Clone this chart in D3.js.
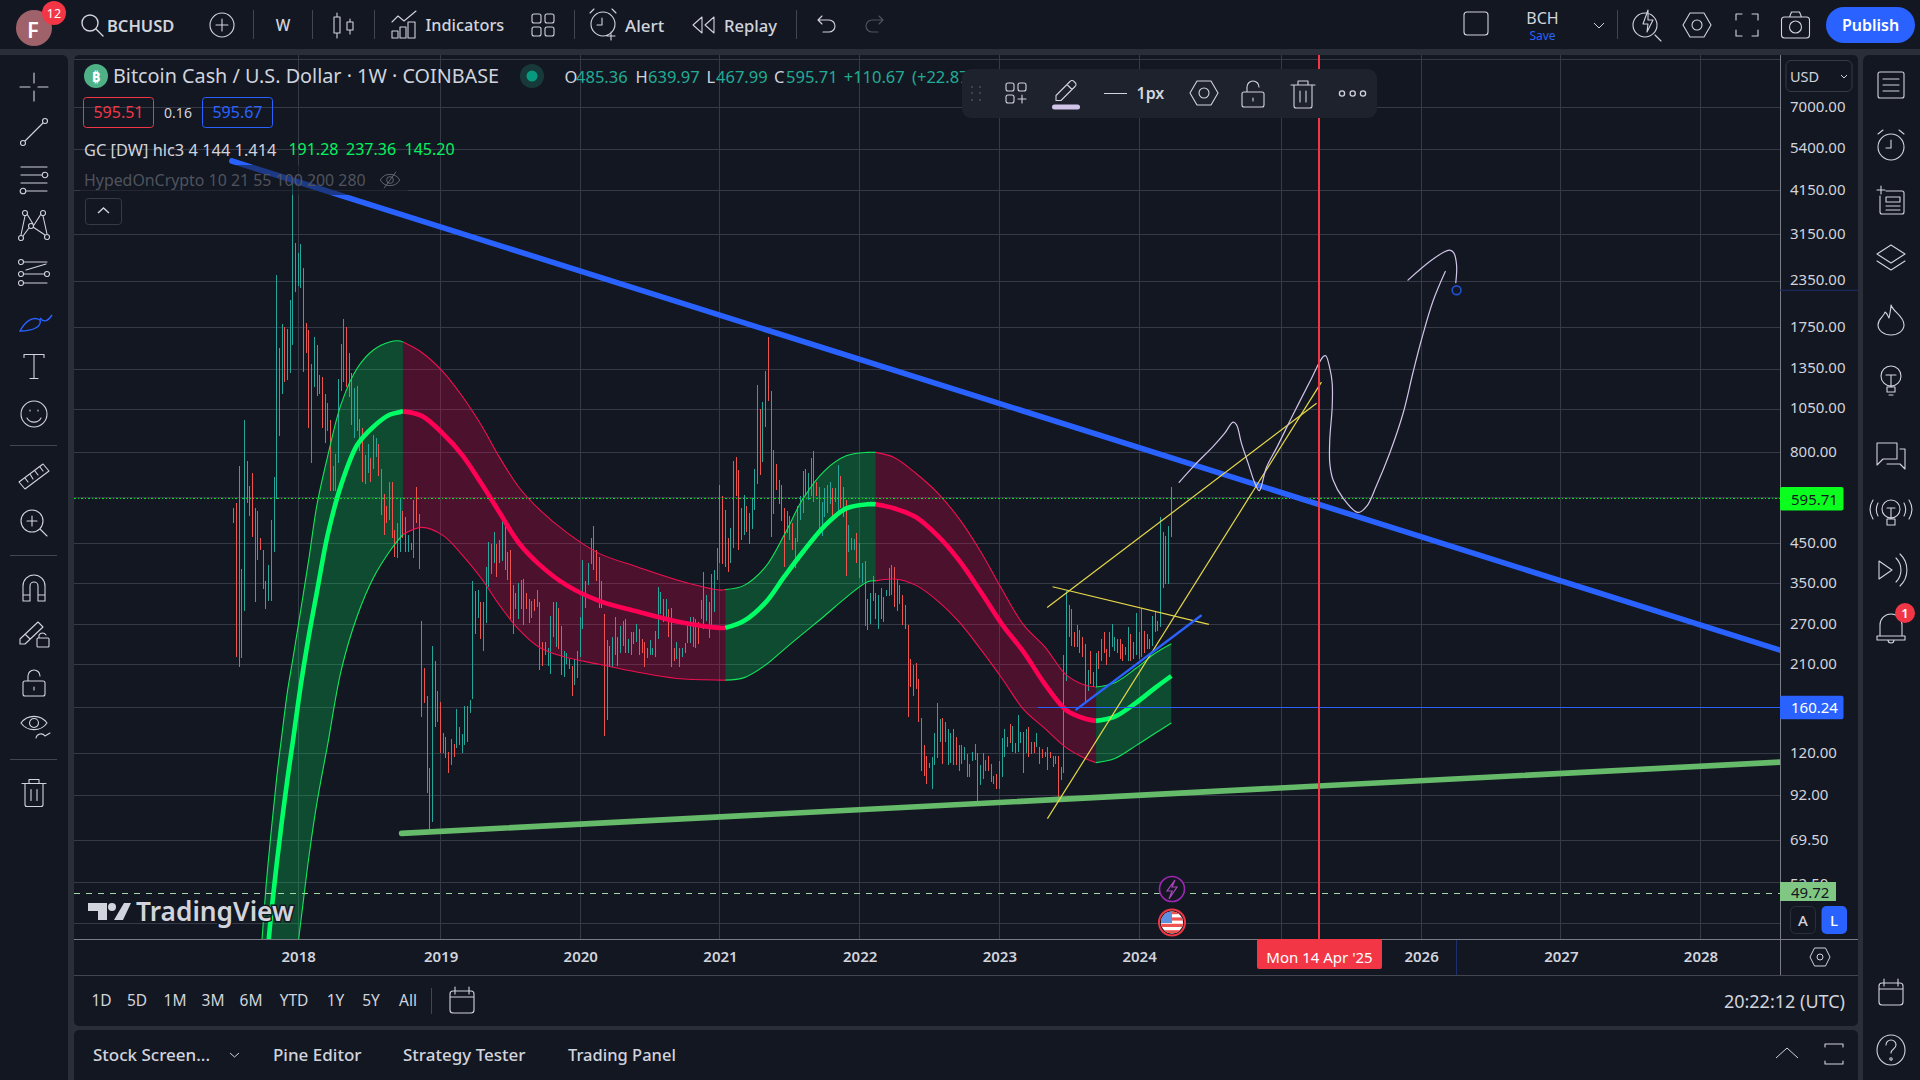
<!DOCTYPE html>
<html>
<head>
<meta charset="utf-8">
<script src="https://d3js.org/d3.v7.min.js"></script>
<style>
  body { margin: 0; background: #2a2e39; overflow: hidden; }
  svg { display: block; }
  text { font-family: "Noto Sans", sans-serif; }
  .domain { display: none; }
  .grid line { stroke: #363a48; shape-rendering: crispEdges; }
</style>
</head>
<body>
<div id="chart"></div>
<script>
// Weekly bars, the first one is the week of 17 Jul 2017
var firstBar = new Date(Date.UTC(2017, 6, 17));
var barHigh = [
  560,581,730,383,978,757,646,700,560,552, 465,432,354,392,522,684,2430,1537,1787,1750,
  1730,2079,4390,2975,2790,2960,2550,1800,1722,1393, 1650,1565,1298,1283,1150,1087,978,730,790,1265,
  1575,1845,1760,1490,1310,1195,1210,985,930,785, 838,770,890,875,838,720,615,570,662,660,
  490,512,595,552,530,475,450,592,642,542, 276,205,172,109,235,214,177,166,136,133,
  121,131,127,158,141,135,161,161,168,354, 332,336,310,310,387,454,449,484,449,460,
  518,522,427,430,345,328,350,358,360,328, 316,312,316,336,310,242,242,232,284,310,
  310,300,267,228,225,217,208,217,228,282, 406,355,398,465,500,430,412,354,288,245,
  235,250,282,250,267,276,279,246,258,258, 270,262,246,242,232,245,233,259,342,330,
  316,316,297,300,233,242,233,233,240,267, 282,282,279,274,314,376,324,310,370,381,
  437,650,604,556,465,495,757,775,715,560, 610,570,545,597,720,1220,1048,1095,1330,1650,
  1175,810,740,671,650,562,550,535,512,465, 567,604,710,720,700,770,805,662,642,585,
  638,650,660,635,638,735,685,642,592,505, 465,463,479,450,396,401,316,328,365,328,
  324,340,320,336,386,392,388,356,346,324, 304,268,217,209,211,191,150,126,118,113,
  117,136,164,149,150,146,140,136,140,133, 126,126,125,119,112,121,127,120,111,120,
  115,118,112,104,105,114,132,140,133,144, 142,128,153,137,137,140,141,129,129,136,
  125,123,121,125,121,118,118,118,110,222, 332,304,297,258,268,260,250,238,202,228,
  200,226,228,246,258,231,258,270,250,246, 246,238,234,266,254,241,290,258,300,259,
  254,246,284,291,276,530,483,470,500,642
];
var barLow = [
  512,220,206,219,293,581,535,468,310,406, 432,338,297,312,312,427,595,885,1150,1243,
  1258,1315,1566,2185,2270,2240,1326,1490,930,745, 1205,1140,1150,930,846,913,626,626,626,745,
  1175,1243,1205,1130,948,875,913,805,662,655, 700,662,720,775,685,538,475,512,522,465,
  412,409,427,465,427,427,432,409,512,383, 151,165,93.5,73,78,141,146,120,120,116,
  106,111,117,124,126,120,126,129,154,169, 254,281,246,228,273,342,371,398,364,398,
  403,381,358,279,254,297,279,297,269,297, 273,281,293,302,202,208,222,208,198,250,
  234,231,196,194,210,204,172,184,192,220, 262,300,346,394,381,354,300,300,134,148,
  206,206,222,208,226,236,225,225,222,238, 242,222,226,206,218,223,223,220,246,288,
  274,279,250,206,214,217,206,220,225,240, 240,234,232,238,279,262,276,248,262,291,
  358,398,394,388,376,398,437,604,432,460, 475,483,447,493,556,655,692,750,935,1100,
  468,542,630,575,516,388,480,460,432,386, 454,522,545,604,592,604,585,604,480,470,
  530,545,575,530,585,538,560,530,367,427, 432,430,398,362,350,267,260,270,312,279,
  262,279,274,322,322,325,302,293,306,268, 262,151,182,172,180,146,107,104,99,109,
  96,111,116,129,112,129,111,113,111,111, 107,112,115,103,103,114,115,88,98,102,
  107,107,100,99,96,96,103,117,125,128, 121,120,121,128,106,120,117,119,120,125,
  112,116,117,108,116,110,112,91,101,106, 189,250,236,234,234,225,220,164,177,185,
  182,182,204,214,226,209,220,234,228,226, 217,214,222,214,214,217,222,217,220,226,
  231,231,236,258,259,266,340,348,348,468
];
// u = up week, d = down week, ten weeks per row
var barDir = [
  "d d d u u d d d d u", "d d d u u u u d u d", "d u u d u u d d d u", "u d u d d u d u u u",
  "u u d d d u d d d d", "u d u u d d d d u d", "d u u d d u d u d d", "d d d d u d u d d d",
  "d u d u u u u u u u", "d u d u u u u u d u", "u d d d u d u u d d", "d u d u d d d u u u",
  "u d d u u d d u u u", "u u u u d d d d d u", "d u u d u u d u u d", "u d d d d u u u u u",
  "d u d d d u u u u u", "u u u d u d u u u u", "u u d d d u u d d u", "u d d u u u d u u d",
  "d u d d d d u u d u", "u u u d u u d d u u", "u u u d d u d d d u", "d u d d u u d u u d",
  "u d d u u u d u d d", "d d d d d d d d d d", "u u u u d d u u d d", "u u u d u u u d u u",
  "u d d u d u u u u d", "u d u u d u d u d u", "d d u d d u d d d u", "u d d d u d d d u d",
  "d u d d d d u u u d", "d d u u d d u u u d", "u d u d d u d d u u"
].join("").replace(/ /g, "");

var yearTicks = [[2018,1],[2019,7],[2020,6],[2021,4],[2022,3],[2023,2],[2024,1],[2025,6],[2026,5],[2027,4],[2028,3]]
  .map(function (d) { return new Date(Date.UTC(d[0], 0, d[1])); });
var priceLabels = [7000,5400,4150,3150,2350,1750,1350,1050,800,450,350,270,210,120,92,69.5,52.5];
var gridPrices = [9500,7000,5400,4150,3150,2350,1750,1350,1050,800,600,450,350,270,210,160,120,92,69.5,53.2,41.3];

var gcWeeks = [10,12,14,16,18,20,22,25,28,31,35,40,46,52,58,62,63,70,78,85,92,99,106,114,124,136,150,165,181,183,190,198,205,212,220,228,236,239,246,254,262,270,278,286,294,302,310,317,321,328,336,343,349];
var gcUpper = [32.6,51.6,74,103,136,177,217,297,409,574,780,1082,1356,1519,1597,1607,1596,1495,1322,1137,950,771,642,554,481,422,388,357,335,336,345,388,475,597,711,780,797,797,771,698,618,525,427,336,269,234,196,184,182,187,205,225,239];
var gcBasis = [23.9,31,44.1,59.8,79,102,129,185,252,332,475,650,836,937,1010,1028,1032,1003,895,785,658,545,452,392,345,313,293,275,264,264,276,310,365,427,502,560,575,575,560,530,472,404,332,270,227,185,157,149,147,151,165,181,195];
var gcLower = [8.2,9.8,11.9,14.3,17.3,22.2,27.7,41.7,62.6,88,127,202,285,362,427,466,475,497,472,418,362,304,262,233,219,210,200,192,190,190,193,209,231,255,285,320,353,355,359,345,313,274,231,192,158,140,124,116,113,116,126,136,145];
var gcTurns = [10, 63, 183, 239, 321, 349];

// Hand drawn trend lines, [bar number, price]
var blueTrend = [[-0.7, 4993], [576, 229]];
var greenTrend = [[62.5, 72.4], [576, 113.4]];
var yellowA = [[302.8, 300], [403.1, 1086]];
var yellowB = [[302.9, 79.4], [404.9, 1240]];
var yellowC = [[304.8, 342], [363, 270]];
var blueShort = [[313.7, 158], [360, 285]];
var brushA = [[351.9,660],[357.8,737],[364.6,828],[368.9,900],[372,964],[373.3,948],[375.1,845],[377.6,745],[380.1,657],[381.7,626],[382.6,647],[384.4,725],[388.2,820],[394.3,1010],[400.6,1245],[405.5,1456],[406.5,1465],[408,1354],[408.9,1232],[408.9,1063],[408,863],[408,745],[409.2,671],[413,597],[418.5,546],[421.7,567],[425.4,647],[430.3,793],[435.3,1020],[439,1320],[442.1,1617],[446.4,2065],[451,2490]];
var brushB = [[437.1,2358],[445.2,2650],[450.2,2805],[452.6,2847],[454.1,2805],[455.2,2590],[454.9,2320]];
var brushEnd = [455.2, 2212];

var lastPrice = 595.71, alertPrice = 160.24, stopPrice = 49.72;
var alertStartWeek = 299.4;
var crosshairDate = new Date(Date.UTC(2025, 3, 14));

var plot = { left: 74, right: 1780, top: 55, bottom: 939 };
var ink = "#d1d4dc", bg = "#131722", upCol = "#26a69a", downCol = "#ef5350";
var gcGreen = "#00ff66", gcRed = "#ff0055", blue = "#2962ff";

var svg = d3.select("#chart").append("svg").attr("width", 1920).attr("height", 1080);

// Panels
function panel(x, y, w, h, r) {
  svg.append("rect").attr("x", x).attr("y", y).attr("width", w).attr("height", h).attr("rx", r || 0).attr("fill", bg);
}
panel(0, 0, 1920, 49);
panel(-6, 55, 74, 1031, 6);
panel(74, 55, 1784, 971, 5);
panel(74, 1030, 1784, 56, 5);
panel(1863, 55, 63, 1031, 6);

// Scales
var x = d3.scaleUtc().domain([yearTicks[0], yearTicks[10]]).range([298.2, 1700.5]);
var y = d3.scaleLog().domain([7000, 92]).range([107.3, 795.3]);

function weekX(w) { return x(new Date(firstBar.getTime() + w * 7 * 864e5)); }
function snap(v) { return Math.floor(v) + 0.5; }

svg.append("clipPath").attr("id", "plotClip").append("rect")
  .attr("x", plot.left).attr("y", plot.top)
  .attr("width", plot.right - plot.left).attr("height", plot.bottom - plot.top);

// Grid
svg.append("g").attr("class", "grid")
  .attr("transform", "translate(0," + plot.bottom + ")")
  .call(d3.axisBottom(x).tickValues(yearTicks).tickSize(-(plot.bottom - plot.top)).tickFormat(""))
  .selectAll(".tick").attr("transform", function (d) { return "translate(" + snap(x(d)) + ",0)"; });
svg.append("g").attr("class", "grid")
  .attr("transform", "translate(" + plot.right + ",0)")
  .call(d3.axisLeft(y).tickValues(gridPrices).tickSize(plot.right - plot.left).tickFormat(""));

var chart = svg.append("g").attr("clip-path", "url(#plotClip)");

// GC fills
var gcRows = gcWeeks.map(function (w, i) { return { w: w, up: gcUpper[i], mid: gcBasis[i], low: gcLower[i] }; });
var gcSegments = d3.range(gcTurns.length - 1).map(function (i) {
  return {
    rising: i % 2 === 0,
    rows: gcRows.filter(function (r) { return r.w >= gcTurns[i] && r.w <= gcTurns[i + 1]; })
  };
});
var gcCurve = d3.curveCatmullRom.alpha(0.5);
var gcArea = d3.area().curve(gcCurve)
  .x(function (r) { return weekX(r.w); })
  .y0(function (r) { return y(r.low); })
  .y1(function (r) { return y(r.up); });
chart.selectAll(".gcFill").data(gcSegments).enter().append("path")
  .attr("d", function (s) { return gcArea(s.rows); })
  .attr("fill", function (s) { return s.rising ? "#00e65c" : "#f5004f"; })
  .attr("fill-opacity", 0.25);

// Bars
chart.selectAll(".bar").data(d3.range(barHigh.length)).enter().append("line")
  .attr("x1", function (i) { return snap(weekX(i)); })
  .attr("x2", function (i) { return snap(weekX(i)); })
  .attr("y1", function (i) { return y(barHigh[i]); })
  .attr("y2", function (i) { return y(barLow[i]); })
  .attr("stroke", function (i) { return barDir[i] === "u" ? upCol : downCol; })
  .attr("stroke-width", 1)
  .attr("shape-rendering", "crispEdges");

// GC lines
function gcLine(key) {
  return d3.line().curve(gcCurve)
    .x(function (r) { return weekX(r.w); })
    .y(function (r) { return y(r[key]); });
}
[["up", 1.1], ["low", 1.1], ["mid", 4.6]].forEach(function (k) {
  chart.selectAll(".gc" + k[0]).data(gcSegments).enter().append("path")
    .attr("d", function (s) { return gcLine(k[0])(s.rows); })
    .attr("fill", "none")
    .attr("stroke", function (s) {
      if (k[0] === "mid") return s.rising ? gcGreen : gcRed;
      return s.rising ? "#12e65c" : "#f0104f";
    })
    .attr("stroke-width", k[1]);
});

// Price lines
chart.append("line").attr("x1", plot.left).attr("x2", plot.right).attr("y1", y(lastPrice)).attr("y2", y(lastPrice))
  .attr("stroke", "#00e515").attr("stroke-dasharray", "1.5 2").attr("shape-rendering", "crispEdges");
chart.append("line").attr("x1", plot.left).attr("x2", plot.right).attr("y1", y(stopPrice)).attr("y2", y(stopPrice))
  .attr("stroke", "#a5d6a7").attr("stroke-dasharray", "6 6").attr("shape-rendering", "crispEdges");
chart.append("line").attr("x1", weekX(alertStartWeek)).attr("x2", plot.right).attr("y1", y(alertPrice)).attr("y2", y(alertPrice))
  .attr("stroke", blue).attr("shape-rendering", "crispEdges");

// Trend lines and brush strokes
var drawn = d3.line().x(function (p) { return weekX(p[0]); }).y(function (p) { return y(p[1]); });
function stroke(points, colour, width, cap, curve) {
  chart.append("path").attr("d", (curve ? drawn.curve(d3.curveCatmullRom) : drawn.curve(d3.curveLinear))(points))
    .attr("fill", "none").attr("stroke", colour).attr("stroke-width", width)
    .attr("stroke-linecap", cap || "butt").attr("stroke-linejoin", "round");
}
stroke(blueTrend, blue, 5.6, "round");
stroke(greenTrend, "#66bb6a", 5.6, "round");
stroke(yellowA, "#e6d84a", 1.2);
stroke(yellowB, "#e6d84a", 1.2);
stroke(yellowC, "#e6d84a", 1.2);
stroke(blueShort, blue, 2.4, "round");
stroke(brushA, "#d1c4e9", 1.2, "round", true);
stroke(brushB, "#d1c4e9", 1.2, "round", true);
chart.append("circle").attr("cx", weekX(brushEnd[0])).attr("cy", y(brushEnd[1])).attr("r", 4.4)
  .attr("fill", "none").attr("stroke", "#1e50d0").attr("stroke-width", 1.6);

// Crosshair
svg.append("line").attr("x1", 1319).attr("x2", 1319).attr("y1", plot.top).attr("y2", plot.bottom)
  .attr("stroke", "#f23645").attr("stroke-width", 2).attr("shape-rendering", "crispEdges");

// Generic helpers for the chrome
function txt(px, py, s, o) {
  o = o || {};
  return svg.append("text").attr("x", px).attr("y", py).text(s)
    .attr("font-size", o.size || 15)
    .attr("font-weight", o.weight || 400)
    .attr("fill", o.fill || ink)
    .attr("text-anchor", o.anchor || "start")
    .attr("dominant-baseline", "central");
}
function ring(cx, cy, r) {
  return "M" + (cx - r) + " " + cy + "a" + r + " " + r + " 0 1 0 " + (2 * r) + " 0a" + r + " " + r + " 0 1 0 " + (-2 * r) + " 0";
}
function box(bx, by, w, h, r) {
  return "M" + (bx + r) + " " + by + "h" + (w - 2 * r) + "a" + r + " " + r + " 0 0 1 " + r + " " + r + "v" + (h - 2 * r) +
    "a" + r + " " + r + " 0 0 1 " + (-r) + " " + r + "h" + (-(w - 2 * r)) + "a" + r + " " + r + " 0 0 1 " + (-r) + " " + (-r) +
    "v" + (-(h - 2 * r)) + "a" + r + " " + r + " 0 0 1 " + r + " " + (-r) + "z";
}
var hexIcon = "M-7-12H7L14 0 7 12H-7L-14 0Z" + ring(0, 0, 5);
var lockIcon = box(-11, -2, 22, 15, 2) + "M-6-2V-7a6 6 0 0 1 12 0" + "M0 4v3";
var trashIcon = "M-12-9H12M-5-9V-13H5V-9M-9-9V12a2 2 0 0 0 2 2H7a2 2 0 0 0 2-2V-9M-3-3V8M3-3V8";
var icons = {
  cross: "M0-14V-4M0 4V14M-14 0H-4M4 0H14",
  line: ring(-11, 11, 2.5) + ring(11, -11, 2.5) + "M-9 9L9-9",
  fib: "M-13-12H13M-13-4H8" + ring(11, -4, 2.8) + "M-13 4H13M-8 12H13" + ring(-11, 12, 2.8),
  pattern: ring(-9, -13, 2.5) + ring(9, -13, 2.5) + ring(-13, 12, 2.5) + ring(13, 11, 2.5) + ring(-3, 0, 2.5) +
    "M-9-10L-13 9M9-10L13 8M-7-12L-1-2M7-12L0-1M-5 2L-11 10M-1 1L11 9",
  gann: ring(-13, -12, 2.5) + ring(-13, 0, 2.5) + ring(-13, 9, 2.5) + ring(13, 0, 2.5) + "M-10-12H13M-10 0H10M-10 9H13M-8-4L12-10",
  text: "M-10-12H10M0-12V12M-4 12H4M-10-12V-9M10-12V-9",
  smile: ring(0, 0, 13) + "M-7 4a8 8 0 0 0 14 0M-4-3v-1M4-3v-1",
  ruler: "M-15 6L9-12 15-5-9 13ZM-9 2L-6 6M-4-2L-1 3M1-5L4-1M6-9L9-5",
  zoomIn: ring(-2, -2, 11) + "M6 6L13 13M-7-2H3M-2-7V3",
  magnet: "M-11 13V-2a11 11 0 0 1 22 0V13H4V-2a4 4 0 0 0-8 0V13ZM-11 7H-4M4 7H11",
  pencilLock: "M-14 5L4-12 9-7-9 10H-14ZM-9 0L-4 5" + box(3, 4, 12, 9, 1) + "M5 4V1a4 4 0 0 1 7 0",
  lock: lockIcon,
  eye: "M-13-4a16 16 0 0 1 26 0a16 16 0 0 1-26 0" + ring(0, -4, 4.5) + "M2 11a5 5 0 0 1 9-2l5-3",
  trash: trashIcon,
  list: box(-13, -13, 26, 26, 2) + "M-8-6H8M-8 0H8M-8 6H8",
  alarm: ring(0, 2, 13) + "M0-5V3H-5M-13-11L-8-15M13-11L8-15",
  watch: "M-14-12H-6M-10-16V-8M-5-11H11a2 2 0 0 1 2 2V10a2 2 0 0 1-2 2H-9a2 2 0 0 1-2-2V-6M-5-5H9V0H-5ZM-5 4H9M-5 8H9",
  layers: "M0-14L14-5 0 4-14-5ZM-14 2L0 11 14 2",
  fire: "M0-15C2-8 13-4 13 5A13 10 0 0 1-13 5C-13-2-7-3-6-8-3-6-3-3-2-2-1-7 0-11 0-15Z",
  bulb: ring(0, -4, 10) + "M-4 7H4V12H-4ZM-2 15H2M-5-5H5M0-5V6",
  chat: "M-14-12H6V4H-8L-14 10ZM9-6H14V14L9 9H-4",
  live: ring(0, -4, 9) + "M-4 6H4V12H-4ZM-4-5H4M0-5V6M-13-10a14 14 0 0 0 0 13M13-10a14 14 0 0 1 0 13M-18-13a18 18 0 0 0 0 19M18-13a18 18 0 0 1 0 19",
  play: "M-12-9L1 0-12 9ZM5-12a17 17 0 0 1 0 24M9-16a22 22 0 0 1 0 32",
  bell: "M-11 9V-2a11 11 0 0 1 22 0V9M-14 9H14V13H-14ZM-3 13a3 3 0 0 0 6 0",
  calendar: box(-12, -10, 24, 22, 3) + "M-12-4H12M-7-14V-7M7-14V-7",
  help: "M-14 0a14 15 0 1 0 28 0a14 15 0 1 0-28 0M-5-5a5 5 0 0 1 10 0c0 4-5 4-5 8" + ring(0, 9, 1.2),
  square: box(-12, -12, 24, 23, 3),
  search: ring(-2, -2, 8) + "M4 4L11 11",
  plusCircle: ring(0, 0, 12) + "M-6 0H6M0-6V6",
  candles: "M-7-12V-8M-7 8V13M-10-8H-4V8H-10ZM6-6V-3M6 5V9M3-3H9V5H3Z",
  indicators: "M-12-3L-6-9 0-4 12-14M-12 6H-6V13H-12ZM-4 2H2V13H-4ZM4-3H11V13H4Z",
  templates: box(-11, -11, 9, 9, 2) + box(2, -11, 9, 9, 2) + box(-11, 2, 9, 9, 2) + box(2, 2, 9, 9, 2),
  templatesAdd: box(-10, -10, 8, 8, 2) + box(2, -10, 8, 8, 2) + box(-10, 2, 8, 8, 2) + "M6 2V10M2 6H10",
  alert: ring(0, 0, 12) + "M-1-6V1H-6M-13-11L-9-15M13-11L9-15M8 8V16M4 12H12",
  replay: "M-2-8L-11 0-2 8ZM10-8L1 0 10 8Z",
  undo: "M-8-5H3a6 6 0 0 1 0 12H-3M-8-5L-4-9M-8-5L-4-1",
  redo: "M8-5H-3a6 6 0 0 0 0 12H3M8-5L4-9M8-5L4-1",
  flash: ring(-2, 1, 12) + "M8 11L14 17M1-14L-4 0H1L0 8 6-4H1Z",
  fullscreen: "M-11-5V-11H-5M5-11H11V-5M11 5V11H5M-5 11H-11V5",
  camera: box(-14, -8, 28, 21, 3) + ring(0, 2, 6) + "M-6-8L-4-13H4L6-8",
  hex: hexIcon,
  pencil: "M-10 6L4-8a2.500 2.500 0 0 1 4 0l1 1a2.500 2.500 0 0 1 0 4L-5 11H-10ZM1-5L6 0",
  maximize: "M-9-7V-10H9V-7M-9 7V10H9V7"
};
function icon(name, cx, cy, colour, sw) {
  svg.append("path").attr("d", icons[name]).attr("transform", "translate(" + cx + "," + cy + ")")
    .attr("fill", "none").attr("stroke", colour || ink).attr("stroke-width", sw || 1.1)
    .attr("stroke-linecap", "round").attr("stroke-linejoin", "round");
}
function vsep(sx, y1, y2) {
  svg.append("line").attr("x1", sx).attr("x2", sx).attr("y1", y1).attr("y2", y2).attr("stroke", "#434651").attr("shape-rendering", "crispEdges");
}
function hsep(sy, x1, x2) {
  svg.append("line").attr("x1", x1).attr("x2", x2).attr("y1", sy).attr("y2", sy).attr("stroke", "#434651").attr("shape-rendering", "crispEdges");
}
function chip(bx, by, w, h, fill, r) {
  return svg.append("rect").attr("x", bx).attr("y", by).attr("width", w).attr("height", h).attr("rx", r === undefined ? 2 : r).attr("fill", fill);
}

// Watermark
var mark = svg.append("g");
mark.append("path").attr("d", "M88 903H107V920H98V911H88ZM124 903H131L123 920H114Z").attr("fill", ink)
  .attr("stroke", bg).attr("stroke-width", 2).attr("paint-order", "stroke");
mark.append("circle").attr("cx", 112).attr("cy", 907).attr("r", 4).attr("fill", ink);
txt(136, 911, "TradingView", { size: 26.3, weight: 600 }).attr("stroke", bg).attr("stroke-width", 3).attr("paint-order", "stroke");

// Legend
chip(80, 165, 328, 30, bg, 0).attr("fill-opacity", 0.55);
svg.append("circle").attr("cx", 96).attr("cy", 76).attr("r", 12).attr("fill", "#4fb286");
txt(96, 76, "₿", { size: 15, weight: 700, fill: "#fff", anchor: "middle" });
txt(113, 75.5, "Bitcoin Cash / U.S. Dollar · 1W · COINBASE", { size: 19.8 });
svg.append("circle").attr("cx", 532).attr("cy", 76).attr("r", 12).attr("fill", "#18393a");
svg.append("circle").attr("cx", 532).attr("cy", 76).attr("r", 5.5).attr("fill", "#089981");
[["O", 564.5], ["H", 635.5], ["L", 706.5], ["C", 774]].forEach(function (d) { txt(d[1], 76, d[0], { size: 16.5 }); });
[["485.36", 576], ["639.97", 648], ["467.99", 716], ["595.71", 786], ["+110.67", 843.7], ["(+22.87%)", 912]].forEach(function (d) {
  txt(d[1], 76, d[0], { size: 16.5, fill: "#22ab94" });
});
svg.append("path").attr("d", box(83.5, 97.5, 70, 30, 3)).attr("fill", "none").attr("stroke", "#f23645");
txt(118.5, 112, "595.51", { size: 16, fill: "#f23645", anchor: "middle" });
txt(178, 112, "0.16", { size: 14, anchor: "middle" });
svg.append("path").attr("d", box(202.5, 97.5, 70, 30, 3)).attr("fill", "none").attr("stroke", blue);
txt(237.5, 112, "595.67", { size: 16, fill: blue, anchor: "middle" });
txt(84, 149, "GC [DW] hlc3 4 144 1.414", { size: 16.4 });
[["191.28", 288.4], ["237.36", 346], ["145.20", 404.5]].forEach(function (d) {
  txt(d[1], 149, d[0], { size: 16, fill: "#00f260" });
});
txt(84, 179.5, "HypedOnCrypto 10 21 55 100 200 280", { size: 15.9, fill: "#50535e" });
svg.append("path").attr("transform", "translate(390,180) scale(.75)").attr("fill", "none").attr("stroke", "#787b86")
  .attr("d", "M-13 0a15 15 0 0 1 26 0a15 15 0 0 1-26 0" + ring(0, 0, 4.5) + "M-8 11L8-11");
svg.append("path").attr("d", box(85.5, 198.5, 36, 26, 3)).attr("fill", "none").attr("stroke", "#363a45");
svg.append("path").attr("d", "M98 213L103.500 208 109 213").attr("fill", "none").attr("stroke", ink).attr("stroke-width", 1.4);

// Event markers
svg.append("circle").attr("cx", 1172).attr("cy", 889).attr("r", 12.5).attr("fill", bg).attr("stroke", "#9c27b0").attr("stroke-width", 1.6);
svg.append("path").attr("d", "M1175 880L1167 891H1172L1169 899 1177 887H1172Z").attr("fill", "none").attr("stroke", "#ab47bc").attr("stroke-width", 1.2);
svg.append("clipPath").attr("id", "flagClip").append("circle").attr("cx", 1172).attr("cy", 922.5).attr("r", 11);
var flag = svg.append("g").attr("clip-path", "url(#flagClip)");
flag.append("rect").attr("x", 1160).attr("y", 911).attr("width", 24).attr("height", 24).attr("fill", "#fff");
[0, 1, 2, 3].forEach(function (i) {
  flag.append("rect").attr("x", 1160).attr("y", 911 + i * 6.4).attr("width", 24).attr("height", 3.2).attr("fill", "#ef5350");
});
flag.append("rect").attr("x", 1160).attr("y", 911).attr("width", 12).attr("height", 12).attr("fill", "#5c8fe0");
svg.append("circle").attr("cx", 1172).attr("cy", 922.5).attr("r", 13).attr("fill", "none").attr("stroke", "#f23645").attr("stroke-width", 2);

// Floating drawing toolbar
chip(962, 69, 415, 49, "#1e222d", 9);
svg.selectAll(".dot").data(d3.cross([972, 980], [87, 93, 100])).enter().append("circle")
  .attr("cx", function (d) { return d[0]; }).attr("cy", function (d) { return d[1]; })
  .attr("r", 0.9).attr("fill", "#50535e");
icon("templatesAdd", 1016, 93, ink);
icon("pencil", 1066, 89.5, ink);
chip(1052, 104.5, 28, 5, "#d1c4e9", 2.5);
svg.append("line").attr("x1", 1104).attr("x2", 1127).attr("y1", 93.5).attr("y2", 93.5).attr("stroke", ink);
txt(1136.5, 93, "1px", { size: 16, weight: 600 });
icon("hex", 1204, 93, ink);
icon("lock", 1253, 94, ink);
icon("trash", 1303, 94, ink);
[1342, 1352.7, 1363].forEach(function (cx) {
  svg.append("circle").attr("cx", cx).attr("cy", 93.5).attr("r", 2.6).attr("fill", "none").attr("stroke", ink).attr("stroke-width", 1.3);
});

// Price axis
svg.append("line").attr("x1", plot.right + 0.5).attr("x2", plot.right + 0.5).attr("y1", plot.top).attr("y2", 975).attr("stroke", "#787b86").attr("shape-rendering", "crispEdges");
svg.append("line").attr("x1", 74).attr("x2", 1858).attr("y1", plot.bottom + 0.5).attr("y2", plot.bottom + 0.5).attr("stroke", "#787b86").attr("shape-rendering", "crispEdges");
var priceAxis = svg.append("g").attr("transform", "translate(" + plot.right + ",-0.6)")
  .call(d3.axisRight(y).tickValues(priceLabels).tickSize(0).tickPadding(10).tickFormat(d3.format(".2f")));
priceAxis.selectAll("text").attr("font-size", 15).attr("fill", ink).style("font-family", '"Noto Sans", sans-serif');
svg.append("line").attr("x1", plot.right).attr("x2", 1858).attr("y1", y(brushEnd[1])).attr("y2", y(brushEnd[1])).attr("stroke", "#1c2f6e");

svg.append("path").attr("d", box(1786, 60.5, 66, 31, 5)).attr("fill", bg).attr("stroke", "#363a45");
txt(1790, 76, "USD", { size: 14.5 });
svg.append("path").attr("d", "M1841 75L1844 78 1847 75").attr("fill", "none").attr("stroke", ink);

function priceTag(value, fill, colour, w) {
  chip(plot.right, y(value) - 11.5, w, 23.5, fill);
  txt(plot.right + 11, y(value), d3.format(".2f")(value), { size: 15, fill: colour });
}
priceTag(lastPrice, "#0aff1e", bg, 63.5);
priceTag(alertPrice, blue, "#fff", 63.5);
chip(plot.right, 882, 56, 19, "#81c784", 0);
txt(plot.right + 11, 892, d3.format(".2f")(stopPrice), { size: 15, fill: bg });

svg.append("path").attr("d", box(1790.5, 906.5, 25, 27, 5)).attr("fill", bg).attr("stroke", "#2a2e39");
txt(1803, 920, "A", { size: 15, anchor: "middle", weight: 500 });
chip(1821.5, 906, 25.5, 28, blue, 5);
txt(1834, 920, "L", { size: 15, anchor: "middle", weight: 500, fill: "#fff" });

// Time axis, the 2025 label sits under the crosshair date so it stays blank
var yearFormat = d3.utcFormat("%Y");
var timeAxis = svg.append("g").attr("transform", "translate(0," + plot.bottom + ")")
  .call(d3.axisBottom(x).tickValues(yearTicks).tickSize(0).tickPadding(12.5)
    .tickFormat(function (d) { return d.getUTCFullYear() === 2025 ? "" : yearFormat(d); }));
timeAxis.selectAll("text").attr("font-size", 15).attr("font-weight", 600).attr("fill", ink).style("font-family", '"Noto Sans", sans-serif');
svg.append("line").attr("x1", weekX(brushEnd[0])).attr("x2", weekX(brushEnd[0])).attr("y1", plot.bottom + 1).attr("y2", 975).attr("stroke", "#1c2f6e").attr("shape-rendering", "crispEdges");
chip(1257, 939, 125, 30, "#f23645", 2);
txt(1319.5, 957, "Mon " + d3.utcFormat("%-d %b '%y")(crosshairDate), { size: 15, fill: "#fff", anchor: "middle" });
hsep(975.5, 74, 1858);
svg.append("path").attr("d", "M-5.500-9H5.500L10 0 5.500 9H-5.500L-10 0Z" + ring(0, 0, 3)).attr("transform", "translate(1820,957)")
  .attr("fill", "none").attr("stroke", ink);

// Range row
[["1D", 101.6], ["5D", 137], ["1M", 175], ["3M", 213], ["6M", 251], ["YTD", 294], ["1Y", 335.5], ["5Y", 371], ["All", 408]].forEach(function (d) {
  txt(d[1], 1000, d[0], { size: 15.5, anchor: "middle" });
});
vsep(431.5, 988, 1014);
icon("calendar", 462, 1001, ink);
txt(1845, 1000.5, "20:22:12 (UTC)", { size: 18, anchor: "end" });

// Bottom tabs
txt(93, 1054.5, "Stock Screen...", { size: 17, weight: 500 });
svg.append("path").attr("d", "M230 1053L234.500 1057 239 1053").attr("fill", "none").attr("stroke", ink);
txt(273, 1054.5, "Pine Editor", { size: 17, weight: 500 });
txt(403, 1054.5, "Strategy Tester", { size: 17, weight: 500 });
txt(568, 1054.5, "Trading Panel", { size: 16.5, weight: 500 });
svg.append("path").attr("d", "M1776 1058L1787 1048 1798 1058").attr("fill", "none").attr("stroke", ink);
icon("maximize", 1834, 1054, ink);

// Left tool bar
[["cross", 87], ["line", 132], ["fib", 179], ["pattern", 226], ["gann", 274], ["text", 366.5], ["smile", 414],
 ["ruler", 476], ["zoomIn", 523], ["magnet", 588], ["pencilLock", 634], ["lock", 683], ["eye", 727], ["trash", 792.500]].forEach(function (d) {
  icon(d[0], 34, d[1], ink);
});
svg.append("path").attr("d", "M20 331C26 320 34 316 40 320 42 326 34 331 20 331ZM40 318C44 323 48 321 52 315").attr("fill", "none").attr("stroke", blue).attr("stroke-width", 1.4);
[445.5, 555, 759].forEach(function (sy) { hsep(sy, 10, 57); });

// Right tool bar
[["list", 85], ["alarm", 145], ["watch", 202], ["layers", 259], ["fire", 320], ["bulb", 380], ["chat", 455], ["live", 513], ["play", 570], ["bell", 627], ["calendar", 993], ["help", 1050]].forEach(function (d) {
  icon(d[0], 1891, d[1], ink);
});
svg.append("circle").attr("cx", 1905).attr("cy", 613).attr("r", 10).attr("fill", "#f23645");
txt(1905, 613, "1", { size: 13, weight: 600, fill: "#fff", anchor: "middle" });

// Top bar
svg.append("circle").attr("cx", 34).attr("cy", 28).attr("r", 18).attr("fill", "#a0626a");
txt(33, 29, "F", { size: 22, weight: 600, fill: "#fff", anchor: "middle" });
svg.append("circle").attr("cx", 54).attr("cy", 13).attr("r", 12).attr("fill", "#f23645");
txt(54, 13, "12", { size: 12.5, fill: "#fff", anchor: "middle" });
icon("search", 92, 25, ink, 1.4);
txt(107, 25, "BCHUSD", { size: 16.5, weight: 600 });
icon("plusCircle", 222, 25, ink);
vsep(253.5, 10, 39);
txt(283, 25, "W", { size: 15.5, weight: 500, anchor: "middle" });
vsep(312.5, 10, 39);
icon("candles", 344, 25, ink);
vsep(374.5, 10, 39);
icon("indicators", 404, 25, ink);
txt(425.5, 25, "Indicators", { size: 16.3, weight: 500 });
icon("templates", 543, 25, ink);
vsep(574.5, 10, 39);
icon("alert", 603, 24, ink);
txt(625, 25, "Alert", { size: 17, weight: 500 });
icon("replay", 704, 25, ink);
txt(724, 25, "Replay", { size: 16.6, weight: 500 });
vsep(796.5, 10, 39);
icon("undo", 826, 25, ink);
icon("redo", 875, 25, "#50535e");
icon("square", 1476, 24, ink);
txt(1542.5, 18, "BCH", { size: 16, anchor: "middle" });
txt(1542.5, 35.5, "Save", { size: 12, fill: blue, anchor: "middle" });
svg.append("path").attr("d", "M1594 23L1599 28 1604 23").attr("fill", "none").attr("stroke", ink);
vsep(1617.5, 10, 39);
icon("flash", 1647, 24, ink);
icon("hex", 1697, 25, ink);
icon("fullscreen", 1747, 25, ink);
icon("camera", 1795.5, 25, ink);
chip(1826, 7, 89, 36, blue, 18);
txt(1870.5, 25, "Publish", { size: 16, weight: 600, fill: "#fff", anchor: "middle" });
</script>
</body>
</html>
